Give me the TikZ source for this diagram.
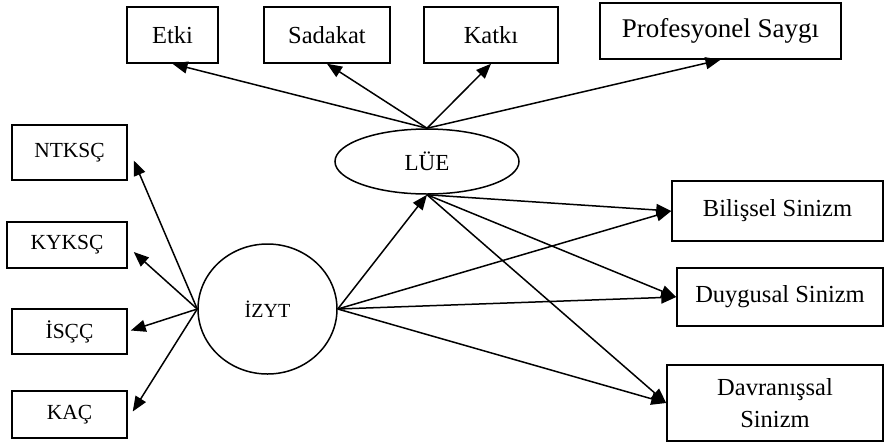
\documentclass[tikz,border=0pt]{standalone}
\usepackage{fontspec}
\setmainfont{Liberation Serif}
\usetikzlibrary{arrows.meta,shapes.geometric}

\begin{document}
\begin{tikzpicture}[x=1pt, y=-1pt, line width=1.5pt, >={Triangle[length=15pt,width=12pt]},
  box/.style={rectangle,draw,inner sep=0pt,font=\fontsize{24.5}{30}\selectfont},
  sbox/.style={box,font=\fontsize{21.5}{26}\selectfont},
  lat/.style={ellipse,draw,inner sep=0pt}]
\useasboundingbox (0,0) rectangle (885,445);
% top indicators
\node[box, minimum width=91pt, minimum height=56pt] (etki) at (172.5,35) {Etki};
\node[box, minimum width=126pt, minimum height=56pt] (sadakat) at (327,35) {Sadakat};
\node[box, minimum width=134pt, minimum height=56pt] (katki) at (491,35) {Katkı};
\node[box, minimum width=241pt, minimum height=56pt, font=\fontsize{27}{32}\selectfont] (prof) at (720.5,31) {Profesyonel Saygı};
% latent variables
\node[lat, minimum width=184pt, minimum height=65pt, font=\fontsize{23}{28}\selectfont] (lue) at (427,161.5) {LÜE};
\node[lat, minimum width=139pt, minimum height=130pt, font=\fontsize{20}{24}\selectfont] (izyt) at (267.5,309) {İZYT};
% left indicators
\node[sbox, minimum width=115pt, minimum height=55pt] (ntksc) at (69.5,152.5) {NTKSÇ};
\node[sbox, minimum width=120pt, minimum height=46pt] (kyksc) at (67,245) {KYKSÇ};
\node[sbox, minimum width=115pt, minimum height=45pt] (iscc) at (69.5,331.5) {İSÇÇ};
\node[sbox, minimum width=115pt, minimum height=47pt] (kac) at (69.5,414.5) {KAÇ};
% outcomes
\node[box, minimum width=211pt, minimum height=60pt] (bilis) at (777.5,211) {Bilişsel Sinizm};
\node[box, minimum width=206pt, minimum height=58pt] (duygu) at (780,297) {Duygusal Sinizm};
\node[box, minimum width=216pt, minimum height=76pt, align=center, font=\fontsize{24.5}{32}\selectfont] (davran) at (775,403) {Davranışsal\\Sinizm};

\draw[->] (lue.north) -- (etki.south);
\draw[->] (lue.north) -- (sadakat.south);
\draw[->] (lue.north) -- (katki.south);
\draw[->] (lue.north) -- (prof.south);
\draw[->] (lue.south) -- (bilis.west);
\draw[->] (lue.south) -- (duygu.west);
\draw[->] (lue.south) -- (davran.west);
\draw[->] (izyt.east) -- (lue.south);
\draw[->] (izyt.east) -- (bilis.west);
\draw[->] (izyt.east) -- (duygu.west);
\draw[->] (izyt.east) -- (davran.west);
\draw[->] (izyt.west) -- ([shift={(6,8)}]ntksc.east);
\draw[->] (izyt.west) -- ([shift={(6,7)}]kyksc.east);
\draw[->] (izyt.west) -- ([shift={(3,-1)}]iscc.east);
\draw[->] (izyt.west) -- ([shift={(5,-3)}]kac.east);
\end{tikzpicture}
\end{document}
